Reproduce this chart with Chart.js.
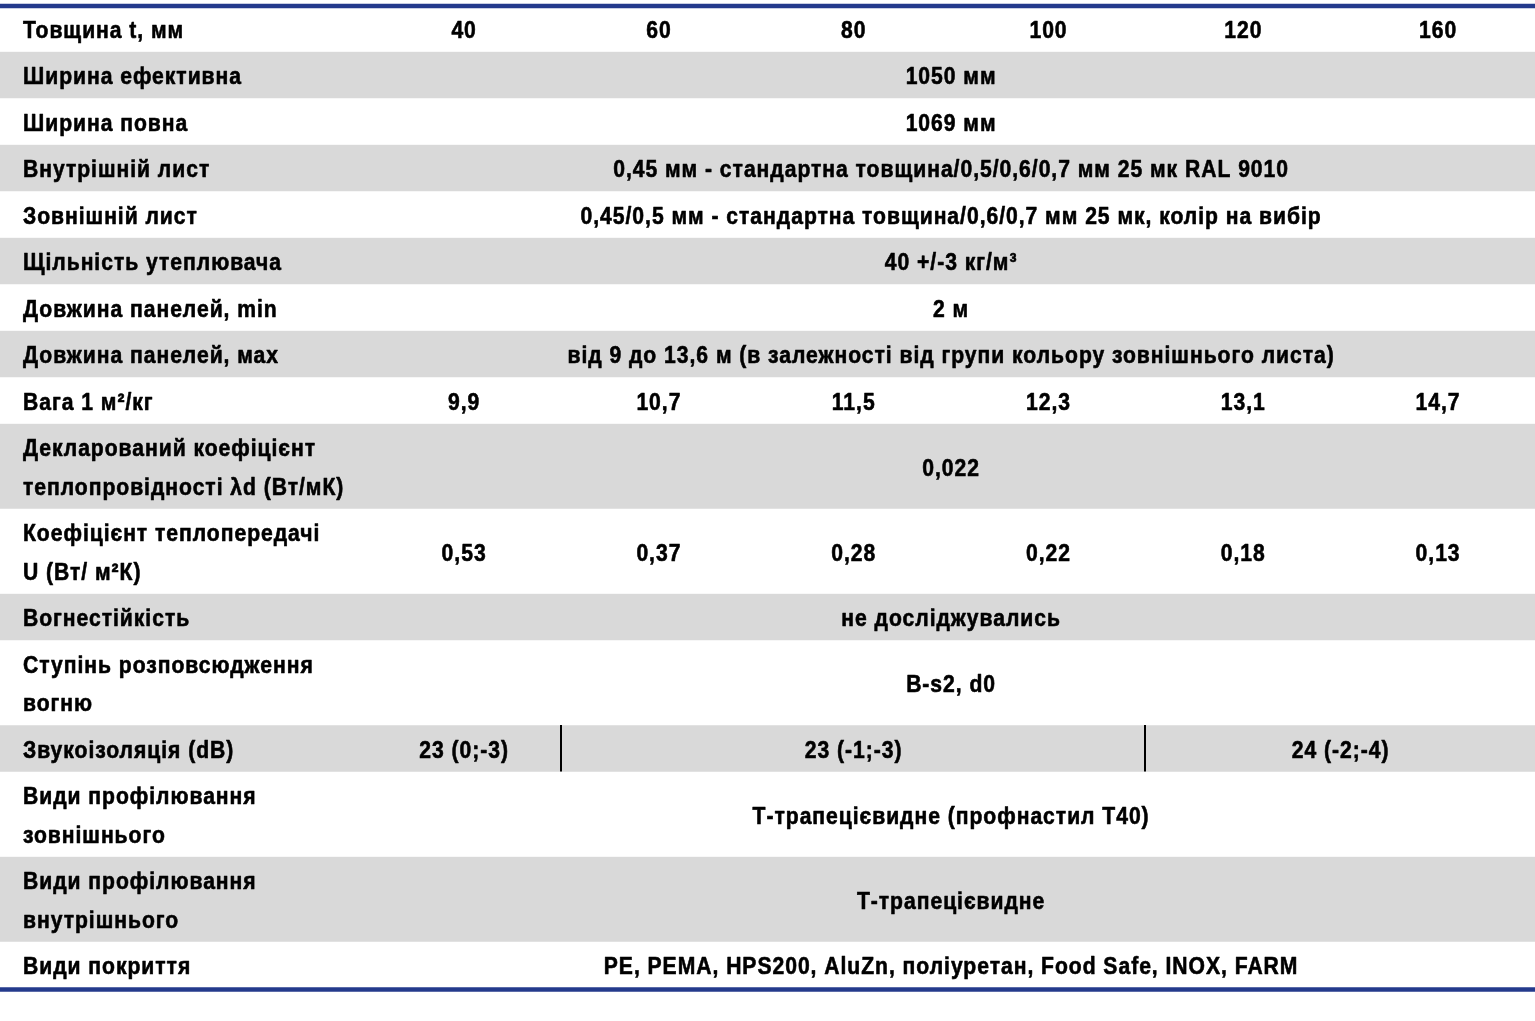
<!DOCTYPE html>
<html lang="uk">
<head>
<meta charset="utf-8">
<title>Характеристики панелей</title>
<script src="https://cdn.jsdelivr.net/npm/chart.js@4.4.1/dist/chart.umd.min.js"></script>
<style>
  html, body { margin: 0; padding: 0; background: #fff; }
  #wrap { width: 1535px; height: 1021px; position: relative; }
</style>
</head>
<body>
<div id="wrap"><canvas id="tabla"></canvas></div>
<script>
// --- дані таблиці ---
const rowLabels = [
    ['Товщина t, мм'],
    ['Ширина ефективна'],
    ['Ширина повна'],
    ['Внутрішній лист'],
    ['Зовнішній лист'],
    ['Щільність утеплювача'],
    ['Довжина панелей, min'],
    ['Довжина панелей, мах'],
    ['Вага 1 м²/кг'],
    ['Декларований коефіцієнт', 'теплопровідності λd (Вт/мК)'],
    ['Коефіцієнт теплопередачі', 'U (Вт/ м²К)'],
    ['Вогнестійкість'],
    ['Ступінь розповсюдження', 'вогню'],
    ['Звукоізоляція (dB)'],
    ['Види профілювання', 'зовнішнього'],
    ['Види профілювання', 'внутрішнього'],
    ['Види покриття']
];

const thicknessMm = [40, 60, 80, 100, 120, 160];
const weightKg = [9.9, 10.7, 11.5, 12.3, 13.1, 14.7];
const uValue = [0.53, 0.37, 0.28, 0.22, 0.18, 0.13];
const soundDb = ['23 (0;-3)', '23 (-1;-3)', '24 (-2;-4)'];
const soundSpans = [1, 3, 2];

const commonText = [
    '1050 мм',
    '1069 мм',
    '0,45 мм - стандартна товщина/0,5/0,6/0,7 мм 25 мк RAL 9010',
    '0,45/0,5 мм - стандартна товщина/0,6/0,7 мм 25 мк, колір на вибір',
    '40 +/-3 кг/м³',
    '2 м',
    'від 9 до 13,6 м (в залежності від групи кольору зовнішнього листа)',
    '0,022',
    'не досліджувались',
    'B-s2, d0',
    'Т-трапецієвидне (профнастил Т40)',
    'Т-трапецієвидне',
    'PE, PEMA, HPS200, AluZn, поліуретан, Food Safe, INOX, FARM'
];

// --- геометрія / стиль ---
const GRIS = '#d9d9d9';
const AZUL = '#243a8c';
const FUENTE = '"Liberation Sans", Arial, sans-serif';
const TAM = 24;
const ESTRECHO = 0.88;        // стиснення тексту по горизонталі
const ESPACIADO = '1.1px';
const NCOL = 6;
const ANCHO_ETIQ = 1.88;      // ширина колонки підписів у колонках
const ALTO_BASE = 46.5;
const PASO_LINEA = 38.5;
const INICIO = 5;

const fmt = (v, d) => v.toFixed(d).replace('.', ',');
const full = t => [{ text: t, span: NCOL }];
const each = arr => arr.map(t => ({ text: t, span: 1 }));

const rowCells = [
    each(thicknessMm.map(String)),
    full(commonText[0]),
    full(commonText[1]),
    full(commonText[2]),
    full(commonText[3]),
    full(commonText[4]),
    full(commonText[5]),
    full(commonText[6]),
    each(weightKg.map(v => fmt(v, 1))),
    full(commonText[7]),
    each(uValue.map(v => fmt(v, 2))),
    full(commonText[8]),
    full(commonText[9]),
    soundDb.map((t, i) => ({ text: t, span: soundSpans[i], divider: true })),
    full(commonText[10]),
    full(commonText[11]),
    full(commonText[12])
];

// межі рядків
let acum = INICIO;
const filas = rowLabels.map(lines => {
    const h = ALTO_BASE + (lines.length - 1) * PASO_LINEA;
    const r = [acum, acum + h];
    acum += h;
    return r;
});
const FIN = acum;

const barra = (label, rango, color) => ({
    label, data: [rango], backgroundColor: color, borderWidth: 0,
    grouped: false, barPercentage: 1, categoryPercentage: 1
});

// лінії зверху/знизу першими, щоб малювались поверх рядків
const datasets = [
    barra('top', [INICIO - 1, INICIO + 3], AZUL),
    barra('bottom', [FIN - 0.5, FIN + 3.5], AZUL),
    ...filas.map((f, i) => barra(rowLabels[i][0], f, i % 2 ? GRIS : '#ffffff'))
];

function texto(ctx, t, x, y, align) {
    const sp = parseFloat(ESPACIADO);
    const w = (ctx.measureText(t).width - sp) * ESTRECHO;
    const x0 = align === 'center' ? x - w / 2 : x;
    ctx.save();
    ctx.translate(x0, y);
    ctx.scale(ESTRECHO, 1);
    ctx.fillText(t, 0, 0);
    ctx.strokeText(t, 0, 0);
    ctx.restore();
}

const textoTabla = {
    id: 'textoTabla',
    afterDatasetsDraw(chart) {
        const { ctx, scales } = chart;
        const y = scales.y, xc = scales.xc;
        const cap = TAM * 0.72;
        ctx.save();
        ctx.fillStyle = '#000';
        ctx.strokeStyle = '#000';
        ctx.lineWidth = 0.6;
        ctx.lineJoin = 'round';
        ctx.font = `bold ${TAM}px ${FUENTE}`;
        if ('letterSpacing' in ctx) ctx.letterSpacing = ESPACIADO;
        ctx.textAlign = 'left';
        ctx.textBaseline = 'alphabetic';
        filas.forEach((f, i) => {
            const yTop = y.getPixelForValue(f[0]);
            const yBot = y.getPixelForValue(f[1]);
            const yc = (yTop + yBot) / 2 + 1;
            const lines = rowLabels[i];
            lines.forEach((t, k) => {
                const ly = yc + (k - (lines.length - 1) / 2) * PASO_LINEA + cap / 2;
                texto(ctx, t, xc.getPixelForValue(0.118), ly, 'left');
            });
            let c = ANCHO_ETIQ;
            rowCells[i].forEach((cell, j) => {
                texto(ctx, cell.text, xc.getPixelForValue(c + cell.span / 2), yc + cap / 2, 'center');
                c += cell.span;
                if (cell.divider && j < rowCells[i].length - 1) {
                    const xd = Math.round(xc.getPixelForValue(c));
                    ctx.fillRect(xd - 1, yTop, 2, yBot - yTop);
                }
            });
        });
        ctx.restore();
    }
};

new Chart(document.getElementById('tabla'), {
    type: 'bar',
    data: { labels: ['tabla'], datasets },
    options: {
        responsive: true,
        maintainAspectRatio: false,
        animation: false,
        layout: { padding: 0 },
        plugins: { legend: { display: false }, tooltip: { enabled: false } },
        scales: {
            x: { display: false, offset: true },
            xc: { type: 'linear', axis: 'x', display: false, offset: false, min: 0, max: ANCHO_ETIQ + NCOL },
            y: { type: 'linear', display: false, reverse: true, min: 0, max: 1021 }
        }
    },
    plugins: [textoTabla]
});
</script>
</body>
</html>
